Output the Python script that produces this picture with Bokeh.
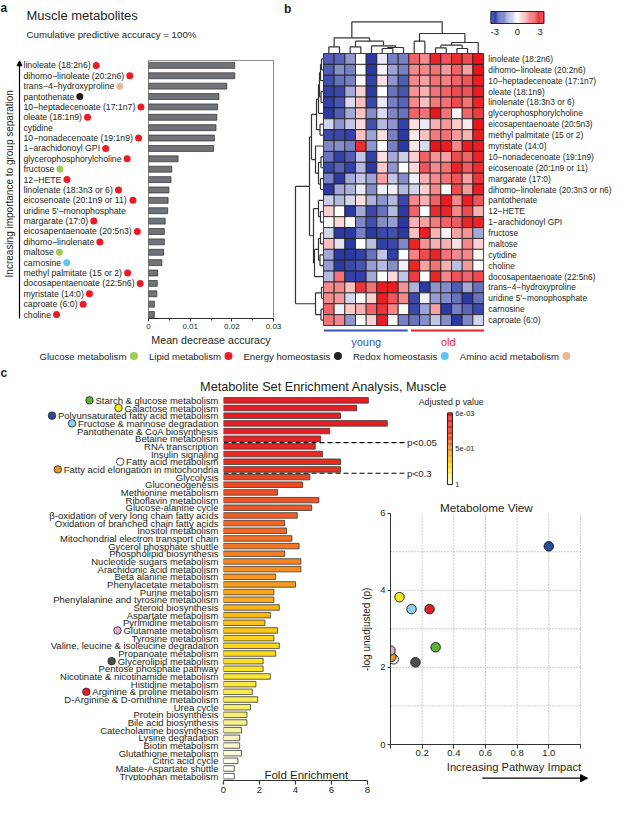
import numpy as np
from bokeh.plotting import figure
from bokeh.layouts import row, column
from bokeh.models import Range1d, Arrow, NormalHead, LinearColorMapper, FixedTicker, NumeralTickFormatter
from bokeh.transform import transform
from bokeh.core.properties import value
from bokeh.embed import file_html
from bokeh.resources import INLINE

FONT = "Liberation Sans"
INK = "#231f20"

# ===================== DATA =====================
# ---- panel a : random forest importance ----
a_metabolites = ["linoleate (18:2n6)", "dihomo−linoleate (20:2n6)", "trans−4−hydroxyproline", "pantothenate",
                 "10−heptadecenoate (17:1n7)", "oleate (18:1n9)", "cytidine", "10−nonadecenoate (19:1n9)",
                 "1−arachidonoyl GPI", "glycerophosphorylcholine", "fructose", "12−HETE",
                 "linolenate (18:3n3 or 6)", "eicosenoate (20:1n9 or 11)", "uridine 5'−monophosphate",
                 "margarate (17:0)", "eicosapentaenoate (20:5n3)", "dihomo−linolenate", "maltose", "carnosine",
                 "methyl palmitate (15 or 2)", "docosapentaenoate (22:5n6)", "myristate (14:0)",
                 "caproate (6:0)", "choline"]
a_mda = [0.0207, 0.0207, 0.0188, 0.0169, 0.0166, 0.0164, 0.0162, 0.0158, 0.0156, 0.0071, 0.0056, 0.0054,
         0.0049, 0.0047, 0.0046, 0.0040, 0.0038, 0.0038, 0.0036, 0.0032, 0.0022, 0.0021, 0.0020, 0.0014, 0.0014]
a_class = ["Lipid", "Lipid", "Amino", "Energy", "Lipid", "Lipid", "", "Lipid", "Lipid", "Lipid", "Glucose",
           "Lipid", "Lipid", "Lipid", "", "Lipid", "Lipid", "Lipid", "Glucose", "Redox", "Lipid", "Lipid",
           "Lipid", "Lipid", "Lipid"]
class_names = ["Glucose", "Lipid", "Energy", "Redox", "Amino"]
class_labels = ["Glucose metabolism", "Lipid metabolism", "Energy homeostasis", "Redox homeostasis",
                "Amino acid metabolism"]

# ---- panel b : heatmap (z-scores) ----
b_metabolites = ["linoleate (18:2n6)", "dihomo−linoleate (20:2n6)", "10−heptadecenoate (17:1n7)",
                 "oleate (18:1n9)", "linolenate (18:3n3 or 6)", "glycerophosphorylcholine",
                 "eicosapentaenoate (20:5n3)", "methyl palmitate (15 or 2)", "myristate (14:0)",
                 "10−nonadecenoate (19:1n9)", "eicosenoate (20:1n9 or 11)", "margarate (17:0)",
                 "dihomo−linolenate (20:3n3 or n6)", "pantothenate", "12−HETE", "1−arachidonoyl GPI",
                 "fructose", "maltose", "cytidine", "choline", "docosapentaenoate (22:5n6)",
                 "trans−4−hydroxyproline", "uridine 5'−monophosphate", "carnosine", "caproate (6:0)"]
b_groups = ["young"] * 8 + ["old"] * 7
b_z = [
    [-2.3, -2.2, -1.5, 0.0, -2.8, -0.3, -1.8, -1.8, 2.0, 1.5, 2.8, 2.2, 2.7, 2.3, 3.0],
    [-2.3, -1.6, -1.8, 0.0, -2.8, -0.1, -1.3, -1.8, 1.5, 1.5, 1.8, 1.3, 2.0, 1.2, 3.0],
    [-2.5, -2.0, -1.8, 0.1, -2.7, 0.4, -1.5, -2.3, 1.5, 1.2, 1.8, 1.6, 2.0, 2.2, 2.9],
    [-2.7, -2.6, -1.2, 0.6, -2.8, 0.0, -2.0, -2.4, 1.4, 1.0, 1.8, 2.0, 2.3, 2.2, 2.9],
    [-2.7, -2.4, -0.5, 0.8, -2.6, -0.3, -1.8, -2.2, 1.5, 0.8, 1.7, 1.8, 2.3, 1.8, 2.8],
    [-2.8, -2.3, -1.2, 0.8, -1.6, -0.5, -1.7, -2.0, 2.0, 1.8, 3.0, 1.8, 0.0, 2.0, 2.5],
    [-0.6, -1.5, -0.8, 0.5, -2.5, -1.0, -1.5, -2.7, 0.4, -0.3, 1.0, 1.3, 0.7, 0.3, 3.0],
    [-2.6, -2.6, -2.7, 0.8, -1.3, 0.4, -1.8, -2.8, 0.3, 0.8, 1.7, 1.8, 1.3, 1.0, 2.9],
    [-1.7, -1.6, -1.8, 2.7, -1.5, 0.0, -1.8, -2.8, 0.3, -0.5, 3.0, 2.9, 1.5, 2.9, 2.9],
    [-2.0, -2.7, -2.3, -0.8, -2.7, 0.4, -1.2, -0.7, 0.6, 2.0, 1.4, 1.2, 2.3, 2.0, 2.8],
    [-2.6, -2.2, -2.7, -1.0, -2.8, 0.7, -1.5, 0.0, 0.5, 2.2, 1.5, 1.8, 2.8, 2.1, 2.7],
    [-1.8, -2.8, -1.2, -0.8, -1.3, 1.2, -0.8, -1.6, -0.2, 1.0, 1.5, 1.8, 2.2, 1.2, 2.6],
    [-2.8, -1.2, -1.1, -0.3, -1.6, -0.2, -0.2, -1.0, -0.6, 0.6, 1.5, 0.0, 2.3, 1.3, 2.9],
    [-0.7, -1.0, -0.6, 0.4, -1.1, -1.5, -1.0, -2.6, 1.5, 1.0, 2.0, 2.9, 1.5, 2.9, 2.2],
    [0.6, 0.0, -2.8, -1.2, -2.6, -2.0, -1.0, -2.8, 2.0, 0.0, 2.7, 2.8, 1.5, 2.3, 1.0],
    [0.0, 0.5, 0.0, -1.7, -2.5, -1.6, -1.4, -2.8, 1.0, 1.2, 1.7, 2.0, 2.1, 2.8, 2.8],
    [-0.6, -2.8, -2.8, -1.8, -2.8, -2.6, -2.5, -2.8, 0.8, 2.9, 1.0, 0.1, 1.2, 1.4, -1.2],
    [0.8, -0.4, -2.8, 0.0, -0.9, -2.7, -2.6, -1.7, 2.8, 1.4, 1.0, 1.0, 0.4, 1.5, 0.6],
    [-1.2, -2.8, -2.8, -2.7, -2.0, -0.8, -2.7, 0.0, 1.6, 2.3, 2.8, 1.8, 1.5, 1.5, 0.1],
    [-1.4, -2.8, -2.6, -2.4, -1.4, -1.0, -1.6, -0.2, 2.8, 1.2, 1.8, 1.0, -0.9, 1.3, 0.0],
    [-1.0, 1.8, -2.7, -2.7, -1.2, 0.0, 0.5, -0.8, 2.5, 0.0, 2.8, 1.5, 2.2, 2.0, 2.3],
    [1.5, 1.5, 0.8, 2.6, 1.8, 2.9, 2.9, 1.4, -1.1, -2.8, -1.5, -1.6, -2.3, -1.2, -2.0],
    [1.5, 1.3, -0.6, 0.0, 0.6, 2.9, 2.2, 1.5, -2.6, -0.2, -1.4, -1.6, -2.0, -2.8, -2.0],
    [2.0, -0.2, 0.7, 1.0, 2.0, 2.6, 1.6, -0.1, -2.6, -1.3, 1.2, -2.8, -1.8, -2.2, -2.6],
    [1.8, 1.5, -1.5, 0.0, 0.6, 2.9, 0.1, -1.8, -2.0, -1.6, -0.8, -1.6, -2.8, -1.7, -0.6],
]
# dendrogram merges: (child a, child b, height); leaves are 0..n-1, merge k creates node n+k
b_col_merges = [(0, 1, 6.7), (2, 3, 6.7), (5, 6, 5.0), (17, 7, 6.0), (4, 18, 7.7), (16, 19, 12.3),
                (15, 20, 15.7), (8, 9, 12.3), (10, 11, 5.7), (12, 13, 5.0), (23, 24, 8.3), (25, 14, 11.0),
                (22, 26, 20.0), (21, 27, 31.7)]
b_row_merges = [(0, 1, 2), (25, 2, 3), (3, 4, 2.5), (26, 27, 4), (28, 5, 5), (6, 7, 3.5), (29, 30, 7),
                (9, 10, 2.5), (11, 12, 3), (32, 33, 5), (8, 34, 8), (31, 35, 12), (14, 15, 3), (13, 37, 5),
                (16, 17, 3), (18, 19, 3.5), (39, 40, 5), (41, 20, 9), (38, 42, 10), (36, 43, 14),
                (21, 22, 2), (23, 24, 2.5), (45, 46, 8), (44, 47, 28)]

# ---- panel c : MSEA ----
c_pathways = ["Starch & glucose metabolism", "Galactose metabolism", "Polyunsaturated fatty acid metabolism",
              "Fructose & mannose degradation", "Pantothenate & CoA biosynthesis", "Betaine metabolism",
              "RNA transcription", "Insulin signaling", "Fatty acid metabolism",
              "Fatty acid elongation in mitochondria", "Glycolysis", "Gluconeogenesis",
              "Methionine metabolism", "Riboflavin metabolism", "Glucose-alanine cycle",
              "β-oxidation of very long chain fatty acids", "Oxidation of branched chain fatty acids",
              "Inositol metabolism", "Mitochondrial electron transport chain", "Gycerol phosphate shuttle",
              "Phospholipid biosynthesis", "Nucleotide sugars metabolism", "Arachidonic acid metabolism",
              "Beta alanine metabolism", "Phenylacetate metabolism", "Purine metabolism",
              "Phenylalanine and tyrosine metabolism", "Steroid biosynthesis", "Aspartate metabolism",
              "Pyrimidine metabolism", "Glutamate metabolism", "Tyrosine metabolism",
              "Valine, leucine & isoleucine degradation", "Propanoate metabolism", "Glycerolipid metabolism",
              "Pentose phosphate pathway", "Nicotinate & nicotinamide metabolism", "Histidine metabolism",
              "Arginine & proline metabolism", "D-Arginine & D-ornithine metabolism", "Urea cycle",
              "Protein biosynthesis", "Bile acid biosynthesis", "Catecholamine biosynthesis",
              "Lysine degradation", "Biotin metabolism", "Glutathione metabolism", "Citric acid cycle",
              "Malate-Aspartate shuttle", "Tryptophan metabolism"]
c_fold = [8.05, 7.4, 6.5, 9.1, 5.9, 5.4, 5.1, 5.5, 6.5, 6.5, 4.8, 4.4, 3.0, 5.3, 4.9, 4.1, 3.4, 3.5, 3.8, 4.2,
          3.4, 4.3, 4.3, 2.9, 4.0, 2.8, 2.8, 3.1, 2.6, 2.3, 3.0, 2.8, 3.1, 2.9, 2.2, 2.2, 2.6, 1.8, 1.6, 1.9,
          1.5, 1.3, 1.3, 1.0, 0.9, 0.9, 1.0, 0.8, 0.6, 0.6]
c_padj = [0.006, 0.009, 0.012, 0.015, 0.025, 0.04, 0.08, 0.12, 0.20, 0.26, 0.31, 0.33, 0.35, 0.36, 0.37,
          0.39, 0.41, 0.42, 0.44, 0.46, 0.48, 0.50, 0.52, 0.54, 0.56, 0.58, 0.60, 0.62, 0.64, 0.66, 0.68,
          0.70, 0.72, 0.74, 0.76, 0.78, 0.80, 0.82, 0.84, 0.85, 0.87, 0.88, 0.90, 0.91, 0.93, 0.94, 0.95,
          0.97, 0.98, 1.0]
c_xticks = [0, 2, 4, 6, 8]
c_cut_labels = ["p<0.05", "p<0.3"]
c_cut_after = [6, 10]          # number of pathways above each cut line

# ---- metabolome view ----
mv_pathways = ["Polyunsaturated fatty acid metabolism", "Galactose metabolism", "Fructose & mannose degradation",
               "Arginine & proline metabolism", "Starch & glucose metabolism", "Glutamate metabolism",
               "Fatty acid elongation in mitochondria", "Fatty acid metabolism", "Glycerolipid metabolism"]
mv_impact = [1.0, 0.057, 0.133, 0.247, 0.285, 0.0, 0.005, 0.02, 0.158]
mv_logp = [5.14, 3.82, 3.51, 3.51, 2.52, 2.44, 2.27, 2.21, 2.13]
mv_xticks = [0.0, 0.2, 0.4, 0.6, 0.8, 1.0, 1.2]
mv_yticks = [0, 2, 4, 6]
mv_ygrid = [1, 2, 3, 4, 5]

# ===================== STYLE =====================
class_colors = {"Glucose": "#9fcb57", "Lipid": "#ed1c24", "Energy": "#231f20", "Redox": "#5ec6ef",
                "Amino": "#e8b98f"}
mv_colors = ["#2c4b9b", "#f5ea1e", "#8dd1f2", "#e41f26", "#5cb335", "#e3a9cf", "#f39321", "#ffffff", "#4f4f4f"]

CW = {' ': 278, '(': 333, ')': 333, '-': 333, '.': 278, ',': 278, ':': 278, "'": 191, '&': 667, '%': 889,
      '=': 584, '<': 584, '−': 584, 'β': 575,
      'A': 667, 'B': 667, 'C': 722, 'D': 722, 'E': 667, 'F': 611, 'G': 778, 'H': 722, 'I': 278, 'J': 500,
      'K': 667, 'L': 556, 'M': 833, 'N': 722, 'O': 778, 'P': 667, 'Q': 778, 'R': 722, 'S': 667, 'T': 611,
      'U': 722, 'V': 667, 'W': 944, 'X': 667, 'Y': 667, 'Z': 611,
      'a': 556, 'b': 556, 'c': 500, 'd': 556, 'e': 556, 'f': 278, 'g': 556, 'h': 556, 'i': 222, 'j': 222,
      'k': 500, 'l': 222, 'm': 833, 'n': 556, 'o': 556, 'p': 556, 'q': 556, 'r': 333, 's': 500, 't': 278,
      'u': 556, 'v': 500, 'w': 722, 'x': 500, 'y': 500, 'z': 500}


def tw(s, px):
    return sum(CW.get(ch, 556) for ch in s) * px / 1000.0


def hex2rgb(h):
    h = h.lstrip("#")
    return tuple(int(h[i:i + 2], 16) for i in (0, 2, 4))


def ramp(anchors, n=256):
    out = []
    for i in range(n):
        t = i / (n - 1)
        for (p0, c0), (p1, c1) in zip(anchors[:-1], anchors[1:]):
            if p0 <= t <= p1:
                f = (t - p0) / (p1 - p0)
                break
        a, b = hex2rgb(c0), hex2rgb(c1)
        out.append("#%02x%02x%02x" % tuple(int(round(x + (y - x) * f)) for x, y in zip(a, b)))
    return out


def fig(w, h, xr, yr, left=0, right=0, top=0, bottom=0, xaxis=False, yaxis=False):
    p = figure(width=w, height=h, x_range=xr, y_range=yr,
               x_axis_location="below" if xaxis else None,
               y_axis_location="left" if yaxis else None,
               output_backend="svg", toolbar_location=None,
               min_border_left=left, min_border_right=right, min_border_top=top, min_border_bottom=bottom)
    p.grid.visible = False
    p.outline_line_color = None
    p.background_fill_color = "white"
    p.border_fill_color = "white"
    return p


def txt(p, xs, ys, texts, size, align="left", baseline="middle", color=INK, angle=0.0, style="normal"):
    p.text(x=list(xs), y=list(ys), text=list(texts), angle=angle, text_font=value(FONT),
           text_font_size=size, text_font_style=style, text_align=align, text_baseline=baseline,
           text_color=color)


def style_axis(ax, label, label_size, tick_size, tick_out, alpha=1.0):
    ax.axis_label = label if label else None
    ax.axis_label_text_font = FONT
    ax.axis_label_text_font_size = label_size
    ax.axis_label_text_font_style = "normal"
    ax.axis_label_text_color = INK
    ax.axis_label_standoff = 2
    ax.major_label_text_font = FONT
    ax.major_label_text_font_size = tick_size
    ax.major_label_text_color = INK
    ax.major_label_standoff = 2
    ax.major_tick_out = tick_out
    ax.major_tick_in = 0
    ax.minor_tick_out = 2
    ax.minor_tick_in = 0
    ax.axis_line_color = "#333333"
    ax.major_tick_line_color = "#333333"
    ax.minor_tick_line_color = "#333333"
    if alpha == 0:
        ax.axis_line_alpha = 0
        ax.major_tick_line_alpha = 0
        ax.minor_tick_line_alpha = 0
        ax.major_label_text_alpha = 0
        ax.axis_label_text_alpha = 0


def dendro(n, merges):
    pos = {i: i + 0.5 for i in range(n)}
    hgt = {i: 0.0 for i in range(n)}
    segs = []
    for k, (a, b, h) in enumerate(merges):
        segs.append((pos[a], hgt[a], pos[a], h))
        segs.append((pos[b], hgt[b], pos[b], h))
        segs.append((pos[a], h, pos[b], h))
        pos[n + k] = (pos[a] + pos[b]) / 2.0
        hgt[n + k] = h
    return segs


# ===================== PANEL A =====================
header_a = fig(282, 59, Range1d(0, 282), Range1d(59, 0))
txt(header_a, [0], [0], ["a"], "12px", baseline="top", style="bold")
txt(header_a, [26], [15], ["Muscle metabolites"], "13px")
txt(header_a, [26], [34], ["Cumulative predictive accuracy = 100%"], "9.7px")

A_YR = (24.38, -0.47)
a_idx = list(range(len(a_metabolites)))
LA_W = 145
LA_X = 23
LA_FS = 8.7

labels_a = fig(LA_W, 289, Range1d(0, LA_W), Range1d(*A_YR), top=1, bottom=27, xaxis=True)
style_axis(labels_a.xaxis[0], "Mean decrease accuracy", "10.7px", "8px", 3, alpha=0)
labels_a.xaxis[0].ticker = FixedTicker(ticks=[70])
txt(labels_a, [LA_X] * len(a_idx), a_idx, a_metabolites, "%.1fpx" % LA_FS)
dx, dy, dc = [], [], []
for i, (m, c) in enumerate(zip(a_metabolites, a_class)):
    if c:
        dx.append(LA_X + tw(m, LA_FS) + 5.5)
        dy.append(i)
        dc.append(class_colors[c])
labels_a.scatter(x=dx, y=dy, size=7, fill_color=dc, line_color=None)
labels_a.add_layout(Arrow(end=NormalHead(size=5, fill_color="black", line_color="black"),
                          x_start=19, y_start=24.45, x_end=19, y_end=-0.44,
                          line_color="black", line_width=1.2))
txt(labels_a, [9], [11.4], ["Increasing importance to group separation"], "10px", align="center",
    angle=np.pi / 2)

bars_a = fig(282 - LA_W, 289, Range1d(0, 0.03), Range1d(*A_YR), left=3, right=9, top=1, bottom=27, xaxis=True)
bars_a.hbar(y=a_idx, right=a_mda, left=0, height=0.57, fill_color="#707479", line_color="#2b2b2b",
            line_width=0.7)
bars_a.outline_line_color = "#8c8c8c"
bars_a.outline_line_width = 1
style_axis(bars_a.xaxis[0], "Mean decrease accuracy", "10.7px", "8px", 3)
bars_a.xaxis[0].ticker = FixedTicker(ticks=[0, 0.01, 0.02, 0.03], minor_ticks=[0.005, 0.015, 0.025])
bars_a.xaxis[0].formatter = NumeralTickFormatter(format="0.00")
bars_a.xaxis[0].major_label_overrides = {0: "0"}

panel_a = column(header_a, row(labels_a, bars_a, spacing=0), spacing=0)

# ===================== PANEL B =====================
CELL_X, CELL_Y = 10.67, 10.88
pb = fig(332, 348, Range1d(-41 / CELL_X, (332 - 41) / CELL_X), Range1d((348 - 53) / CELL_Y, -53 / CELL_Y))
heat_pal = ramp([(0.0, "#1e2c9c"), (0.5, "#ffffff"), (1.0, "#e8161c")])
heat_map = LinearColorMapper(palette=heat_pal, low=-3, high=3)
hx, hy, hv = [], [], []
for r, vals in enumerate(b_z):
    for c, v in enumerate(vals):
        hx.append(c + 0.5)
        hy.append(r + 0.5)
        hv.append(v)
pb.rect(x="x", y="y", width=1, height=1, source=dict(x=hx, y=hy, v=hv),
        fill_color=transform("v", heat_map), line_color="#1a1a1a", line_width=0.8)

col_segs = dendro(len(b_groups), b_col_merges)
pb.segment(x0=[s[0] for s in col_segs], y0=[-s[1] / CELL_Y for s in col_segs],
           x1=[s[2] for s in col_segs], y1=[-s[3] / CELL_Y for s in col_segs],
           line_color="#333333", line_width=1.2)
row_segs = dendro(len(b_metabolites), b_row_merges)
pb.segment(x0=[-s[1] / CELL_X for s in row_segs], y0=[s[0] for s in row_segs],
           x1=[-s[3] / CELL_X for s in row_segs], y1=[s[2] for s in row_segs],
           line_color="#333333", line_width=1.2)

nrow, ncol = len(b_metabolites), len(b_groups)
txt(pb, [ncol + 0.45] * nrow, [i + 0.5 for i in range(nrow)], b_metabolites, "8.4px")

# colour key
KX0, KX1, KY0, KY1, KLO, KHI = 15.7, 20.65, -3.86, -2.76, -3.5, 3.5
kv = list(np.linspace(KLO, KHI, 60))
kx = [KX0 + (v - KLO) / (KHI - KLO) * (KX1 - KX0) for v in kv]
pb.rect(x="x", y="y", width=(KX1 - KX0) / 59.0, height=KY1 - KY0,
        source=dict(x=kx, y=[(KY0 + KY1) / 2] * len(kv), v=kv),
        fill_color=transform("v", heat_map), line_color=None)
pb.rect(x=[(KX0 + KX1) / 2], y=[(KY0 + KY1) / 2], width=KX1 - KX0, height=KY1 - KY0,
        fill_color=None, line_color="#222222", line_width=1)
kt = [-3, 0, 3]
txt(pb, [KX0 + (t - KLO) / (KHI - KLO) * (KX1 - KX0) for t in kt], [-2.02] * 3, ["-3", "0", "3"],
    "9.5px", align="center")

# group bars
young_n = b_groups.count("young")
pb.segment(x0=[0.05], y0=[25.46], x1=[young_n - 0.1], y1=[25.46], line_color="#3a55b4", line_width=2)
pb.segment(x0=[young_n + 0.2], y0=[25.46], x1=[ncol + 0.05], y1=[25.46], line_color="#e8262a", line_width=2)
txt(pb, [young_n / 2.0], [26.5], ["young"], "11px", align="center", color="#3a55b4")
txt(pb, [young_n + (ncol - young_n) / 2.0 + 0.2], [26.5], ["old"], "11px", align="center", color="#e8262a")
txt(pb, [-41 / CELL_X + 0.15], [-53 / CELL_Y + 0.1], ["b"], "12px", baseline="top", style="bold")

top_row = row(panel_a, pb, spacing=0)

# ===================== LEGEND ROW =====================
leg = fig(614, 15, Range1d(0, 614), Range1d(15, 0))
LF = 9.6
xcur = 39
lx, ldx, ldc = [], [], []
for cname, clab in zip(class_names, class_labels):
    lx.append(xcur)
    d = xcur + tw(clab, LF) + 7.5
    ldx.append(d)
    ldc.append(class_colors[cname])
    xcur = d + 15
txt(leg, lx, [7.5] * 5, class_labels, "%.1fpx" % LF)
leg.scatter(x=ldx, y=[7.5] * 5, size=8, fill_color=ldc, line_color=None)

# ===================== PANEL C =====================
title_c = fig(614, 31, Range1d(0, 614), Range1d(31, 0))
txt(title_c, [0], [2], ["c"], "12px", baseline="top", style="bold")
txt(title_c, [323], [23.5], ["Metabolite Set Enrichment Analysis, Muscle"], "12.7px", align="center")

ROW_PX = 7.67
FE_PX = 18.0
C_TOP = -0.765
C_SPLIT = C_TOP + 102 / ROW_PX      # lies in the gap between bar 13 and bar 14
C_BOT = C_TOP + 386 / ROW_PX
BAR_W = 150 / FE_PX

c_pal = ramp([(0.0, "#e41e24"), (0.25, "#e8321f"), (0.35, "#ee5224"), (0.5, "#f5861f"), (0.62, "#fbb517"),
              (0.75, "#fde01a"), (0.86, "#f8ed55"), (0.95, "#fbf8d8"), (1.0, "#ffffff")])
c_map = LinearColorMapper(palette=c_pal, low=min(c_padj), high=1.0)
c_idx = list(range(len(c_pathways)))
LC_FS = 9.5
mv_color_of = dict(zip(mv_pathways, mv_colors))
cut_y = [n - 0.5 for n in c_cut_after]

# labels column (full height)
labels_c = fig(219, 404, Range1d(0, 219), Range1d(C_BOT, C_TOP), bottom=18, xaxis=True)
style_axis(labels_c.xaxis[0], "", "10px", "9.5px", 4, alpha=0)
labels_c.xaxis[0].ticker = FixedTicker(ticks=[100])
txt(labels_c, [218] * len(c_idx), c_idx, c_pathways, "%.1fpx" % LC_FS, align="right")
xs, ys, cs = [], [], []
for i, name in enumerate(c_pathways):
    if name in mv_color_of:
        xs.append(218 - tw(name, LC_FS) - 6)
        ys.append(i)
        cs.append(mv_color_of[name])
labels_c.scatter(x=xs, y=ys, size=7.5, fill_color=cs, line_color="#222222", line_width=0.8)

# upper bars: wide, rows above the split (with cut lines and colour key)
top_sel = [i for i in c_idx if i < C_SPLIT]
bot_sel = [i for i in c_idx if i > C_SPLIT]
bars_top = fig(395, 102, Range1d(0, 391 / FE_PX), Range1d(C_SPLIT, C_TOP), left=4)
bars_top.hbar(y="y", right="right", left=0, height=0.72,
              source=dict(y=top_sel, right=[c_fold[i] for i in top_sel], p=[c_padj[i] for i in top_sel]),
              fill_color=transform("p", c_map), line_color="#3a3a3a", line_width=0.8)
bars_top.segment(x0=[0] * 2, y0=cut_y, x1=[10.15] * 2, y1=cut_y, line_color="black", line_width=1.2,
                 line_dash="5 3")
txt(bars_top, [10.2] * 2, cut_y, c_cut_labels, "9.7px")
PY0, PY1, PX = 1.66, 10.97, 12.58
pv = list(np.linspace(min(c_padj), 1.0, 60))
py = [PY0 + (v - min(c_padj)) / (1.0 - min(c_padj)) * (PY1 - PY0) for v in pv]
bars_top.rect(x="x", y="y", width=5 / FE_PX, height=(PY1 - PY0) / 59.0,
              source=dict(x=[PX] * len(pv), y=py, v=pv), fill_color=transform("v", c_map), line_color=None)
bars_top.rect(x=[PX], y=[(PY0 + PY1) / 2], width=5 / FE_PX, height=PY1 - PY0, fill_color=None,
              line_color="#222222", line_width=1)
pt = [min(c_padj), 0.5, 1.0]
txt(bars_top, [PX + 0.3] * 3, [PY0 + (v - min(c_padj)) / (1.0 - min(c_padj)) * (PY1 - PY0) for v in pt],
    ["6e-03", "5e-01", "1"], "7.5px")
txt(bars_top, [12.65], [0.26], ["Adjusted p value"], "8.8px", align="center")

# lower bars: narrow, with the fold-enrichment axis
bars_bot = fig(154, 302, Range1d(0, BAR_W), Range1d(C_BOT, C_SPLIT), left=4, bottom=18, xaxis=True)
bars_bot.hbar(y="y", right="right", left=0, height=0.72,
              source=dict(y=bot_sel, right=[c_fold[i] for i in bot_sel], p=[c_padj[i] for i in bot_sel]),
              fill_color=transform("p", c_map), line_color="#3a3a3a", line_width=0.8)
style_axis(bars_bot.xaxis[0], "", "10px", "9.5px", 4)
bars_bot.xaxis[0].ticker = FixedTicker(ticks=c_xticks)
bars_bot.xaxis[0].bounds = (c_xticks[0], c_xticks[-1])
bars_bot.xaxis[0].axis_line_width = 1.2
bars_bot.xaxis[0].major_tick_line_width = 1.2
txt(bars_bot, [4.6], [48.85], ["Fold Enrichment"], "11.5px", align="center")
txt(bars_bot, [7.94], [29.85], ["-log unadjusted (p)"], "10px", align="center", angle=np.pi / 2)

# ---- metabolome view scatter ----
SC_L, SC_R = 17, 23
sc = fig(241, 264, Range1d(0, 1.27), Range1d(0, 6.38), left=SC_L, right=SC_R, top=2, bottom=16,
         xaxis=True, yaxis=True)
gx = mv_xticks[1:]
sc.segment(x0=gx, y0=[0] * len(gx), x1=gx, y1=[mv_yticks[-1]] * len(gx), line_color="#9a9a9a",
           line_width=1, line_dash="1 2")
sc.segment(x0=[0] * len(mv_ygrid), y0=mv_ygrid, x1=[mv_xticks[-1]] * len(mv_ygrid), y1=mv_ygrid,
           line_color="#9a9a9a", line_width=1, line_dash="1 2")
sc.scatter(x=mv_impact[::-1], y=mv_logp[::-1], size=9.5, fill_color=mv_colors[::-1], line_color="#111111",
           line_width=0.9)
xa = sc.xaxis[0]
style_axis(xa, "", "10px", "9.5px", 4)
xa.major_label_standoff = 1
xa.bounds = (mv_xticks[0], mv_xticks[-1])
xa.ticker = FixedTicker(ticks=mv_xticks)
xa.formatter = NumeralTickFormatter(format="0.0")
xa.major_label_overrides = {0.0: "", 1.2: ""}
ya = sc.yaxis[0]
style_axis(ya, "", "10px", "9.5px", 3)
ya.bounds = (mv_yticks[0], mv_yticks[-1])
ya.ticker = FixedTicker(ticks=mv_yticks)
txt(sc, [0.606], [6.15], ["Metabolome View"], "11.7px", align="center")

arrow_c = fig(241, 38, sc.x_range, Range1d(38, 0), left=SC_L, right=SC_R)
txt(arrow_c, [0.78], [6], ["Increasing Pathway Impact"], "11.2px", align="center")
arrow_c.add_layout(Arrow(end=NormalHead(size=7, fill_color="black", line_color="black"),
                         x_start=0.58, y_start=17.7, x_end=1.245, y_end=17.7, line_color="black",
                         line_width=1.3))

right_part = column(bars_top,
                    row(bars_bot, column(sc, arrow_c, spacing=0), spacing=0),
                    spacing=0)

layout = column(top_row, leg, title_c,
                row(labels_c, right_part, spacing=0), spacing=0)

open("out.html", "w").write(file_html(layout, INLINE))
